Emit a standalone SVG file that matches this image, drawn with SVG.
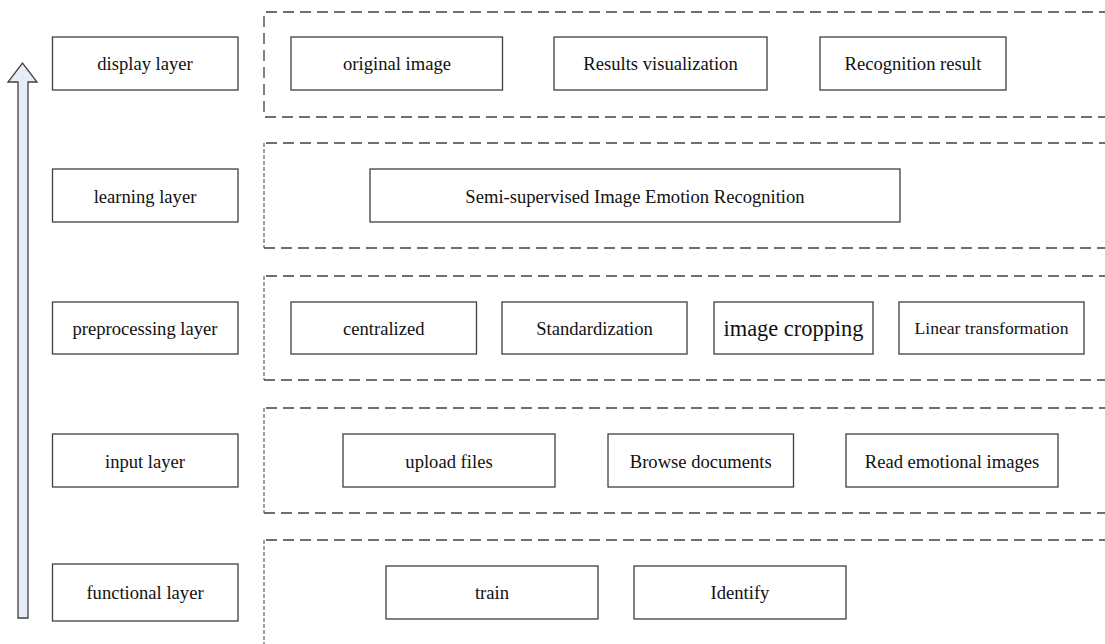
<svg xmlns="http://www.w3.org/2000/svg" width="1105" height="644" viewBox="0 0 1105 644">
<style>
.box{fill:#fff;stroke:#404040;stroke-width:1.3}
.t{font-family:"Liberation Serif","Times New Roman",serif;font-size:18.6px;fill:#111;text-anchor:middle;dominant-baseline:central}
.dh{fill:none;stroke:#404040;stroke-width:1.3;stroke-dasharray:11 6}
.dv{fill:none;stroke:#404040;stroke-width:1;stroke-dasharray:4 2}
</style>
<rect width="1105" height="644" fill="#fff"/>
<g id="connectors">
<path d="M18,618 L18,82 L8,82 L22.5,63 L37,82 L28,82 L28,618 Z" fill="#e6ecf8" stroke="#404040" stroke-width="1.3"/>
</g>
<g id="frames">
<path class="dh" d="M1110,12 L264,12 L264,117 L1110,117"/>
<path class="dh" d="M1110,143 L264,143"/><path class="dv" d="M264,143 L264,248"/><path class="dh" d="M264,248 L1110,248"/>
<path class="dh" d="M1110,276 L264,276"/><path class="dv" d="M264,276 L264,380"/><path class="dh" d="M264,380 L1110,380"/>
<path class="dh" d="M1110,408 L264,408"/><path class="dv" d="M264,408 L264,513"/><path class="dh" d="M264,513 L1110,513"/>
<path class="dh" d="M1110,540 L264,540"/><path class="dv" d="M264,540 L264,644"/>
</g>
<g id="display-layer"><rect class="box" x="52.5" y="37" width="185.5" height="53"/><text class="t" x="145" y="63">display layer</text></g>
<g id="original-image"><rect class="box" x="291" y="37" width="211.5" height="53"/><text class="t" x="397" y="63">original image</text></g>
<g id="results-visualization"><rect class="box" x="554" y="37" width="213" height="53"/><text class="t" x="660.5" y="63">Results visualization</text></g>
<g id="recognition-result"><rect class="box" x="820" y="37" width="186" height="53"/><text class="t" x="913" y="63">Recognition result</text></g>

<g id="learning-layer"><rect class="box" x="52.5" y="169" width="185.5" height="53"/><text class="t" x="145" y="196">learning layer</text></g>
<g id="semi-supervised"><rect class="box" x="370" y="169" width="530" height="53"/><text class="t" x="635" y="196">Semi-supervised Image Emotion Recognition</text></g>

<g id="preprocessing-layer"><rect class="box" x="52.5" y="302" width="185.5" height="52"/><text class="t" x="145" y="328">preprocessing layer</text></g>
<g id="centralized"><rect class="box" x="291" y="302" width="185.5" height="52"/><text class="t" x="383.75" y="328">centralized</text></g>
<g id="standardization"><rect class="box" x="502" y="302" width="185" height="52"/><text class="t" x="594.5" y="328">Standardization</text></g>
<g id="image-cropping"><rect class="box" x="714" y="302" width="159" height="52"/><text class="t" x="793.5" y="328" style="font-size:22.4px">image cropping</text></g>
<g id="linear-transformation"><rect class="box" x="899" y="302" width="185" height="52"/><text class="t" x="991.5" y="328" style="font-size:17.6px">Linear transformation</text></g>

<g id="input-layer"><rect class="box" x="52.5" y="434" width="185.5" height="53"/><text class="t" x="145" y="461">input layer</text></g>
<g id="upload-files"><rect class="box" x="343" y="434" width="212" height="53"/><text class="t" x="449" y="461">upload files</text></g>
<g id="browse-documents"><rect class="box" x="608" y="434" width="185.5" height="53"/><text class="t" x="700.75" y="461">Browse documents</text></g>
<g id="read-emotional-images"><rect class="box" x="846" y="434" width="212" height="53"/><text class="t" x="952" y="461">Read emotional images</text></g>

<g id="functional-layer"><rect class="box" x="52.5" y="564" width="185.5" height="57"/><text class="t" x="145" y="592">functional layer</text></g>
<g id="train"><rect class="box" x="386" y="566" width="212" height="53"/><text class="t" x="492" y="592">train</text></g>
<g id="identify"><rect class="box" x="634" y="566" width="212" height="53"/><text class="t" x="740" y="592">Identify</text></g>
</svg>
